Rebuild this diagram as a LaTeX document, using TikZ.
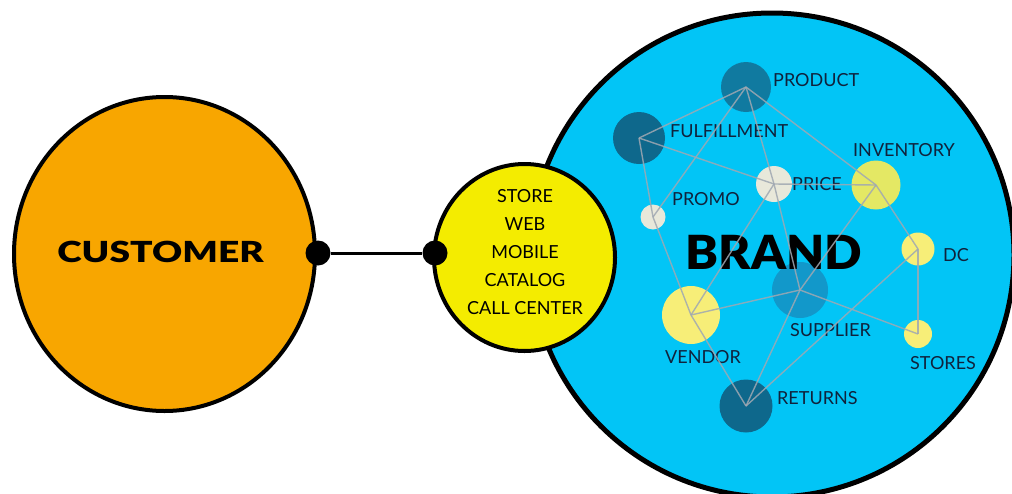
\documentclass[tikz,border=0pt]{standalone}
\usepackage{fontspec}
\setmainfont{Lato}
\newfontfamily\heavyfont{Lato Black}
\usetikzlibrary{shapes.geometric}

\definecolor{custorange}{RGB}{248,166,0}
\definecolor{chanyellow}{RGB}{244,236,0}
\definecolor{brandcyan}{RGB}{2,197,246}
\definecolor{teal}{RGB}{14,104,140}
\definecolor{tealmid}{RGB}{16,122,160}
\definecolor{supblue}{RGB}{18,152,202}
\definecolor{pale}{RGB}{232,232,218}
\definecolor{invyellow}{RGB}{228,232,100}
\definecolor{softyellow}{RGB}{247,238,120}
\definecolor{labelnavy}{RGB}{16,34,60}
\definecolor{linkgray}{RGB}{160,168,178}

\begin{document}
\begin{tikzpicture}[x=1pt,y=-1pt,
  bigring/.style={draw=black, line width=4pt, inner sep=0pt},
  hub/.style={circle, inner sep=0pt, minimum size=#1},
  lbl/.style={anchor=west, inner sep=0pt, text=labelnavy,
              font=\fontsize{18}{18}\selectfont},
  link/.style={draw=linkgray, line width=1.4pt, opacity=0.85},
  dot/.style={circle, fill=black, inner sep=0pt, minimum size=25pt}
]
\useasboundingbox (0,0) rectangle (1012,493);

% brand circle (partly cut by the page edge)
\node[circle, bigring, line width=5pt, fill=brandcyan, minimum size=484pt]
  (brand) at (772,255) {};

% channel circle overlapping the brand circle
\node[ellipse, bigring, fill=chanyellow, minimum width=181pt, minimum height=187pt]
  (channel) at (524.5,257.5) {};

% customer circle
\node[ellipse, bigring, fill=custorange, minimum width=301pt, minimum height=314pt]
  (customer) at (164.5,254) {};

% connector with end dots
\node[dot] (dl) at (318,253) {};
\node[dot] (dr) at (435,253) {};
\draw[line width=3pt] (dl) -- (dr);

% network members inside the brand
\node[hub=50pt, fill=tealmid]    (product) at (746,87) {};
\node[hub=52pt, fill=teal]       (fulfil)  at (639,138) {};
\node[hub=36pt, fill=pale]       (price)   at (774,184) {};
\node[hub=25pt, fill=pale]       (promo)   at (653,217) {};
\node[hub=49pt, fill=invyellow]  (invent)  at (876,185) {};
\node[hub=33pt, fill=softyellow] (dc)      at (918,249) {};
\node[hub=28pt, fill=softyellow] (stores)  at (918,334) {};
\node[hub=56pt, fill=supblue]    (supply)  at (800,290) {};
\node[hub=58pt, fill=softyellow] (vendor)  at (691,315) {};
\node[hub=53pt, fill=teal]       (returns) at (746,406) {};

% texts
\node[font=\heavyfont\fontsize{29}{29}\selectfont, inner sep=0pt]
  (tcust) at (160.5,252) {\scalebox{1.28}[1]{CUSTOMER}};
\node[align=center, inner sep=0pt, font=\fontsize{18}{28}\selectfont]
  (tchan) at (525,252) {STORE\\WEB\\MOBILE\\CATALOG\\CALL CENTER};
\node[font=\heavyfont\fontsize{47}{47}\selectfont, inner sep=0pt]
  (tbrand) at (774,252) {\scalebox{1.05}[1]{BRAND}};

\node[lbl] (lproduct) at (773,80)  {PRODUCT};
\node[lbl] (lfulfil)  at (670,131) {FULFILLMENT};
\node[lbl] (lprice)   at (792,184) {PRICE};
\node[lbl] (lpromo)   at (672,199) {PROMO};
\node[lbl] (linvent)  at (853,150) {INVENTORY};
\node[lbl] (ldc)      at (943,255) {DC};
\node[lbl] (lstores)  at (910,363) {STORES};
\node[lbl] (lsupply)  at (790,330) {SUPPLIER};
\node[lbl] (lvendor)  at (665,357) {VENDOR};
\node[lbl] (lreturns) at (777,398) {RETURNS};

% links between members, drawn hub to hub
\foreach \a/\b in {product/fulfil, product/promo, product/price, product/invent,
                   fulfil/price, fulfil/promo, promo/vendor, price/vendor,
                   price/supply, price/invent, invent/supply, invent/dc,
                   dc/stores, dc/returns, supply/stores, supply/returns,
                   supply/vendor, vendor/returns}
  \draw[link] (\a.center) -- (\b.center);
\end{tikzpicture}
\end{document}
